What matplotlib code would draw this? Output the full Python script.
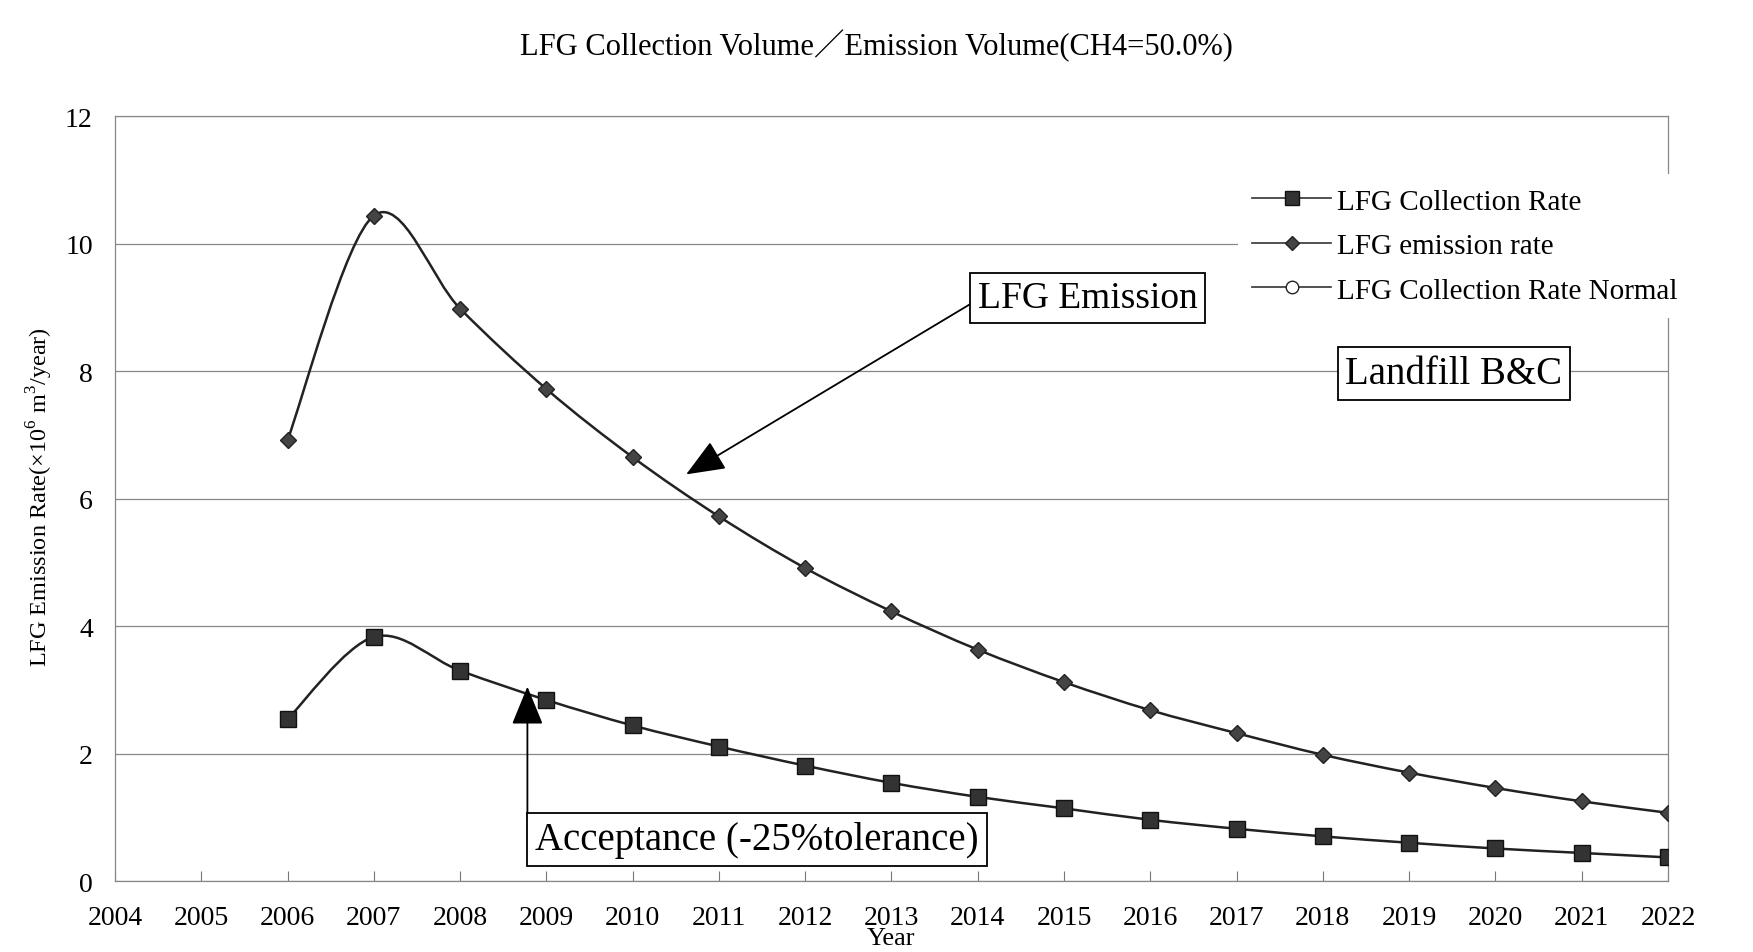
import numpy as np
import matplotlib
matplotlib.use('Agg')
import matplotlib.pyplot as plt
from matplotlib.path import Path
from matplotlib.patches import PathPatch
from matplotlib.lines import Line2D

plt.rcParams['font.family'] = ['Liberation Serif', 'Noto Sans CJK JP', 'DejaVu Sans']
plt.rcParams['mathtext.fontset'] = 'custom'
plt.rcParams['mathtext.rm'] = 'Liberation Serif'

# values
years = [2006, 2007, 2008, 2009, 2010, 2011, 2012, 2013, 2014,
         2015, 2016, 2017, 2018, 2019, 2020, 2021, 2022]
emission = [6.92, 10.44, 8.98, 7.72, 6.65, 5.72, 4.91, 4.23, 3.63,
            3.12, 2.68, 2.32, 1.98, 1.70, 1.46, 1.25, 1.07]
collection = [2.54, 3.83, 3.30, 2.84, 2.44, 2.11, 1.81, 1.54, 1.32,
              1.14, 0.96, 0.82, 0.70, 0.60, 0.51, 0.44, 0.37]
collection_normal = []
year_ticks = list(range(2004, 2023))
y_ticks = [0, 2, 4, 6, 8, 10, 12]

title = 'LFG Collection Volume\uff0fEmission Volume(CH4=50.0%)'
legend_labels = ['LFG Collection Rate', 'LFG emission rate', 'LFG Collection Rate Normal']


def smooth_path(xs, ys):
    # excel-like smoothed line: cubic bezier through the points
    pts = np.column_stack([xs, ys]).astype(float)
    n = len(pts)
    verts = [pts[0]]
    codes = [Path.MOVETO]
    for i in range(n - 1):
        p0 = pts[i - 1] if i > 0 else pts[i]
        p1 = pts[i]
        p2 = pts[i + 1]
        p3 = pts[i + 2] if i + 2 < n else pts[i + 1]
        c1 = p1 + (p2 - p0) / 6.0
        c2 = p2 - (p3 - p1) / 6.0
        verts += [c1, c2, p2]
        codes += [Path.CURVE4] * 3
    return Path(verts, codes)


fig = plt.figure(figsize=(17.53, 9.53), dpi=100)
ax = fig.add_axes([0.0656, 0.0745, 0.8859, 0.8025])

ax.set_xlim(2004, 2022)
ax.set_ylim(0, 12)
ax.set_xticks(year_ticks)
ax.set_yticks(y_ticks)
ax.tick_params(axis='x', direction='in', length=7, width=0.8, color='#777777',
               labelsize=20, pad=17)
ax.tick_params(axis='y', length=0, labelsize=20, pad=16)
for s in ax.spines.values():
    s.set_color('#888888')
    s.set_linewidth(0.9)
ax.yaxis.grid(True, color='#888888', linewidth=0.9)
ax.set_axisbelow(True)

for ys in [emission, collection]:
    ax.add_patch(PathPatch(smooth_path(years, ys), facecolor='none',
                           edgecolor='#222222', linewidth=1.8, zorder=3))
ax.plot(years, emission, linestyle='none', marker='D', markersize=8.5,
        color='#444444', markeredgecolor='#222222', zorder=4)
ax.plot(years, collection, linestyle='none', marker='s', markersize=11,
        color='#333333', markeredgecolor='#111111', zorder=4)
ax.plot(collection_normal, collection_normal, zorder=4)

handles = [
    Line2D([], [], color='#333333', linewidth=1.2, marker='s', markersize=10,
           markerfacecolor='#333333', markeredgecolor='#111111'),
    Line2D([], [], color='#333333', linewidth=1.2, marker='D', markersize=7,
           markerfacecolor='#444444', markeredgecolor='#222222'),
    Line2D([], [], color='#333333', linewidth=1.2, marker='o', markersize=9,
           markerfacecolor='white', markeredgecolor='#222222'),
]
leg = ax.legend(handles, legend_labels, loc='upper left',
                bbox_to_anchor=(0.723, 0.925), fontsize=21, frameon=True,
                handlelength=2.7, handletextpad=0.2, labelspacing=0.62,
                borderpad=0.5, borderaxespad=0)
leg.get_frame().set_facecolor('white')
leg.get_frame().set_edgecolor('none')
leg.get_frame().set_alpha(1)
leg.set_zorder(5)

box = dict(boxstyle='square,pad=0.2', facecolor='white', edgecolor='black', linewidth=1.3)
arrow = dict(arrowstyle='-|>,head_length=1.1,head_width=0.45', color='black',
             linewidth=1.3, mutation_scale=22, shrinkA=0, shrinkB=0)

ax.annotate('LFG Emission', xy=(2010.62, 6.38), xytext=(2014.0, 9.15),
            fontsize=27, ha='left', va='center', bbox=box,
            arrowprops=dict(arrow, relpos=(0, 0.45)), zorder=6)
# acceptance arrow runs straight up from the box's left edge
ax.annotate('', xy=(2008.78, 3.05), xytext=(2008.78, 1.0),
            arrowprops=arrow, zorder=6)
ax.text(2008.87, 0.65, 'Acceptance (-25%tolerance)', fontsize=28,
        ha='left', va='center', bbox=box, zorder=7)
ax.text(2019.52, 7.96, 'Landfill B&C', fontsize=28, ha='center', va='center',
        bbox=box, zorder=6)

fig.text(0.5, 0.952, title, fontsize=22, ha='center', va='center')
fig.text(0.5085, 0.015, 'Year', fontsize=19, ha='center', va='center')
fig.text(0.023, 0.478, 'LFG Emission Rate(\u00d710$^{6}$ m$^{3}$/year)', fontsize=17.5,
         rotation=90, ha='center', va='center')

fig.savefig('out.png', dpi=100)
